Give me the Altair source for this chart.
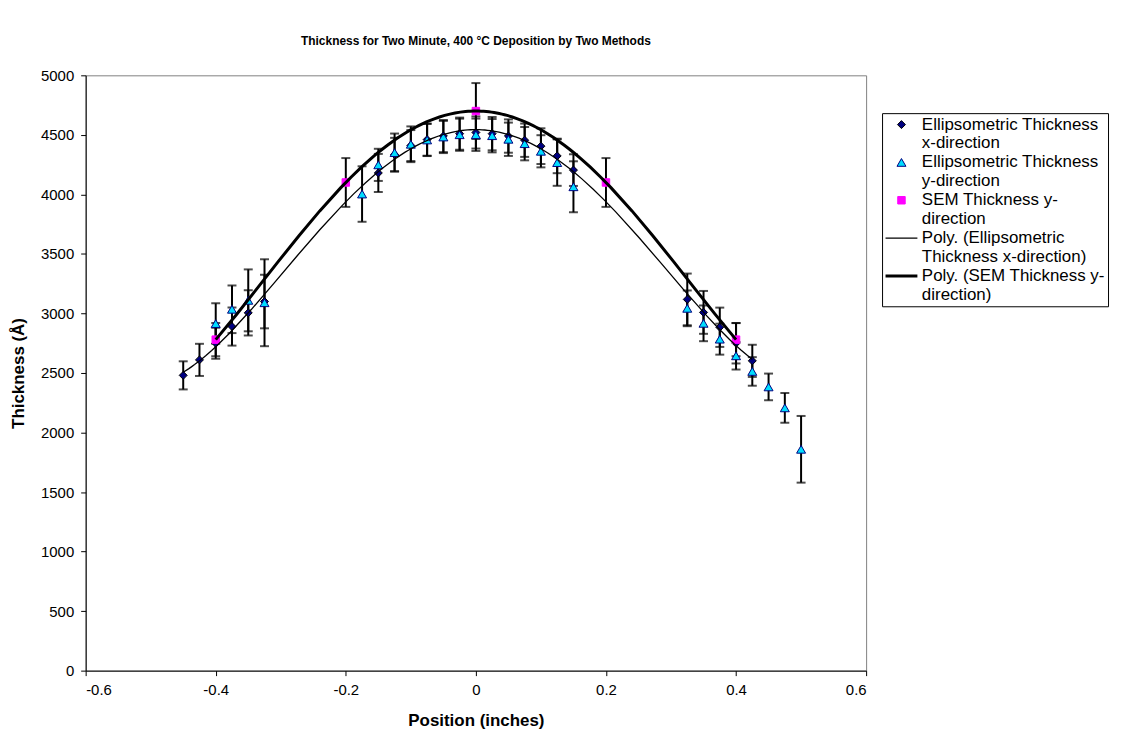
import json
import altair as alt
import pandas as pd

# ---------------- data ----------------
# Ellipsometric Thickness, x-direction (diamonds)
pos_ex = [-0.45, -0.425, -0.4, -0.375, -0.35, -0.325, -0.15, -0.125, -0.1, -0.075, -0.05, -0.025, 0.0,
          0.025, 0.05, 0.075, 0.1, 0.125, 0.15, 0.325, 0.35, 0.375, 0.4, 0.425]
thk_ex = [2480, 2610, 2750, 2890, 3005, 3100, 4180, 4335, 4410, 4460, 4490, 4510, 4520,
          4510, 4490, 4455, 4405, 4323, 4204, 3118, 3009, 2884, 2750, 2602]
err_ex = [118, 135, 130, 160, 190, 225, 160, 140, 130, 135, 135, 135, 135,
          140, 140, 140, 150, 145, 133, 217, 180, 165, 170, 135]

# Ellipsometric Thickness, y-direction (triangles)
pos_ey = [-0.4, -0.375, -0.35, -0.325, -0.175, -0.15, -0.125, -0.1, -0.075, -0.05, -0.025, 0.0, 0.025,
          0.05, 0.075, 0.1, 0.125, 0.15, 0.325, 0.35, 0.375, 0.4, 0.425, 0.45, 0.475, 0.5]
thk_ey = [2915, 3035, 3110, 3090, 4003, 4248, 4351, 4421, 4457, 4482, 4501, 4501, 4493,
          4463, 4426, 4362, 4267, 4064, 3043, 2917, 2784, 2644, 2513, 2383, 2207, 1859]
err_ey = [170, 200, 260, 365, 233, 135, 160, 150, 135, 135, 135, 136, 140,
          140, 140, 135, 195, 214, 150, 150, 130, 115, 120, 112, 125, 280]

# SEM Thickness, y-direction (squares)
pos_sem = [-0.4, -0.2, 0.0, 0.2, 0.4]
thk_sem = [2780, 4100, 4700, 4100, 2780]
err_sem = [139, 205, 235, 205, 139]

# legend (one entry per text line)
legend_keys = ["e0", "e1", "e2", "e3", "e4", "e5", "e6", "e7", "e8", "e9"]
legend_text = ["Ellipsometric Thickness", "x-direction",
               "Ellipsometric Thickness", "y-direction",
               "SEM Thickness y-", "direction",
               "Poly. (Ellipsometric", "Thickness x-direction)",
               "Poly. (SEM Thickness y-", "direction)"]
shape_range = ["diamond", "square", "triangle-up", "square", "square", "square",
               "M-4,0H4", "square", "M-4,0H4", "square"]
fill_range = ["#000080", "transparent", "#00DDFF", "transparent", "#FF00FF", "transparent",
              "transparent", "transparent", "transparent", "transparent"]
stroke_range = ["#000000", "transparent", "#000080", "transparent", "#FF00FF", "transparent",
                "#000000", "transparent", "#000000", "transparent"]
size_range = [64, 0, 81, 0, 56, 0, 64, 0, 64, 0]
sw_range = [1, 0, 1, 0, 1, 0, 1.3, 0, 3, 0]

x_ticks = [-0.6, -0.4, -0.2, 0, 0.2, 0.4, 0.6]
y_ticks = [0, 500, 1000, 1500, 2000, 2500, 3000, 3500, 4000, 4500, 5000]

FONT = "Liberation Sans"


def frame(pos, thk, err, key):
    return pd.DataFrame({
        "pos": pos, "thick": thk,
        "lo": [t - e for t, e in zip(thk, err)],
        "hi": [t + e for t, e in zip(thk, err)],
        "series": key,
    })


df_ex = frame(pos_ex, thk_ex, err_ex, "e0")
df_ey = frame(pos_ey, thk_ey, err_ey, "e2")
df_sem = frame(pos_sem, thk_sem, err_sem, "e4")
df_all = pd.concat([df_ex, df_ey, df_sem], ignore_index=True)

x_axis = alt.Axis(values=x_ticks, labelExpr="'' + datum.value", title="Position (inches)",
                  labelPadding=7, titlePadding=15)
y_axis = alt.Axis(values=y_ticks, format="d", title="Thickness (Å)", labelPadding=7, titlePadding=13)
x_scale = alt.Scale(domain=[-0.6, 0.6], nice=False, zero=False)
y_scale = alt.Scale(domain=[0, 5000], nice=False)

X = alt.X("pos:Q", scale=x_scale, axis=x_axis)

label_expr = "%s[indexof(%s, datum.label)]" % (json.dumps(legend_text), json.dumps(legend_keys))
leg = alt.Legend(title=None, orient="none", legendX=800, legendY=38, padding=3,
                 strokeColor="black", fillColor="white", labelFont=FONT, labelFontSize=17,
                 labelColor="black", labelLimit=400, rowPadding=1, symbolOffset=8,
                 labelOffset=12, labelExpr=label_expr)

errbars = alt.Chart(df_all).mark_errorbar(ticks=True, size=9, thickness=2, color="black").encode(
    x=X,
    y=alt.Y("lo:Q", scale=y_scale, axis=y_axis),
    y2="hi:Q",
)

points = alt.Chart(df_all).mark_point(filled=True, opacity=1).encode(
    x=X,
    y=alt.Y("thick:Q", scale=y_scale, axis=y_axis),
    shape=alt.Shape("series:N", scale=alt.Scale(domain=legend_keys, range=shape_range), legend=leg),
    fill=alt.Fill("series:N", scale=alt.Scale(domain=legend_keys, range=fill_range), legend=leg),
    stroke=alt.Stroke("series:N", scale=alt.Scale(domain=legend_keys, range=stroke_range), legend=leg),
    size=alt.Size("series:N", scale=alt.Scale(type="ordinal", domain=legend_keys, range=size_range), legend=leg),
    strokeWidth=alt.StrokeWidth("series:N", scale=alt.Scale(type="ordinal", domain=legend_keys, range=sw_range), legend=leg),
)

fit_ex = alt.Chart(df_ex).transform_regression("pos", "thick", method="poly", order=4).mark_line(
    color="black", strokeWidth=1.3).encode(x=X, y=alt.Y("thick:Q", scale=y_scale, axis=y_axis))
fit_sem = alt.Chart(df_sem).transform_regression("pos", "thick", method="poly", order=4).mark_line(
    color="black", strokeWidth=3).encode(x=X, y=alt.Y("thick:Q", scale=y_scale, axis=y_axis))

chart = alt.layer(errbars, points, fit_ex, fit_sem).properties(
    width=784, height=598,
    autosize=alt.AutoSizeParams(type="none"),
    padding={"left": 78, "top": 66, "right": 250, "bottom": 58},
    title=alt.TitleParams("Thickness for Two Minute, 400 °C Deposition by Two Methods",
                          font=FONT, fontSize=12, fontWeight="bold", color="black",
                          anchor="middle", frame="group", offset=20),
).configure_view(stroke="#808080", strokeWidth=1).configure_axis(
    grid=False, domainColor="black", tickColor="black", tickSize=5, labelColor="black",
    labelFont=FONT, labelFontSize=15, titleFont=FONT, titleFontSize=17, titleFontWeight="bold",
    titleColor="black", domainWidth=1, tickWidth=1,
)

chart.save("out.html", embed_options={"renderer": "svg", "actions": False})
